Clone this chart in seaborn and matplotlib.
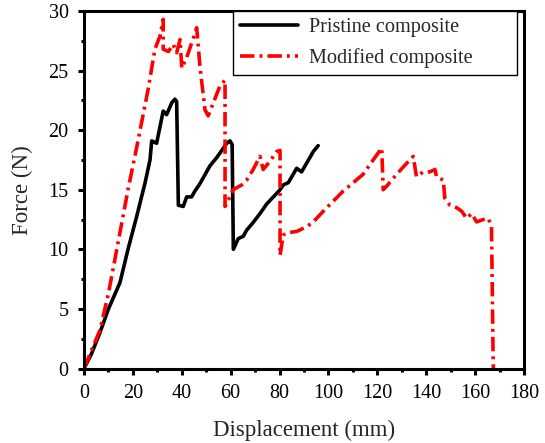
import matplotlib
matplotlib.use("Agg")
import matplotlib.pyplot as plt
import seaborn as sns
import numpy as np
import pandas as pd
from matplotlib.ticker import MultipleLocator

sns.set_style("ticks")
plt.rcParams['font.family'] = ['Liberation Serif', 'DejaVu Serif']
plt.rcParams['mathtext.fontset'] = 'stix'

# Pristine composite (black solid)
pristine_x = [0, 3, 6.5, 10, 14.7, 18, 21.6, 25, 27, 27.7, 29.7, 32.4, 33.8, 35.9, 37.2, 37.9,
              38.6, 40.6, 42, 44, 45.4, 47.4, 51.5, 54.3, 58.4, 59.7, 60.6,
              61.1, 63.1, 65.2, 66.5, 69, 72, 74.7, 77, 80.2, 81.5, 83.6, 87, 89, 92.4, 93.8, 95.8]
pristine_y = [0, 1.2, 3.0, 5.0, 7.2, 10.0, 12.8, 15.6, 17.5, 19.1, 18.9, 21.6, 21.3, 22.3, 22.6, 22.4,
              13.7, 13.6, 14.4, 14.4, 14.9, 15.5, 17.0, 17.7, 18.9, 19.1, 18.8,
              10.0, 10.9, 11.1, 11.6, 12.2, 13.0, 13.8, 14.3, 15.0, 15.4, 15.6, 16.8, 16.5, 17.7, 18.2, 18.7]

# Modified composite (red dash-dot)
modified_x = [0, 3, 6.5, 10, 14.7, 18, 21.6, 26.3, 29, 31.1, 32.4, 32.4, 34.5, 36.5, 37.9, 39.3,
              40, 42, 44.7, 46.1, 47.4, 49.5, 50.8, 52.9, 55.6, 57.7,
              57.7, 59.7, 61, 64.5, 66.5, 69.2, 72, 73.3, 76.1, 78.8, 80.2,
              80.2, 81.5, 83.6, 87, 91.1, 93.8, 97.9, 106.1, 114.2, 118.3, 121.8,
              122.4, 123.8, 127.9, 131.9, 134.7, 136, 138.8, 141.5, 143.6, 144.2, 147,
              147.6, 149.7, 152.4, 154.5, 156.5, 158.6, 160.6, 163.3, 165.4, 166.7,
              167.4, 167.5]
modified_y = [0, 1.5, 3.2, 6.3, 11.4, 15.0, 18.6, 23.5, 26.8, 27.9, 29.3, 26.8, 26.6, 27.2, 26.5, 27.6,
              25.2, 26.1, 27.7, 28.6, 25.4, 21.7, 21.2, 22.3, 23.7, 24.2,
              13.6, 14.4, 15.0, 15.4, 15.8, 16.7, 17.8, 16.7, 17.4, 18.2, 18.3,
              9.5, 11.2, 11.4, 11.5, 11.9, 12.3, 13.2, 14.9, 16.3, 17.5, 18.5,
              15.0, 15.3, 16.3, 17.2, 17.8, 16.1, 16.5, 16.5, 16.7, 16.1, 15.8,
              14.3, 13.7, 13.5, 13.2, 12.6, 13.0, 12.3, 12.5, 12.6, 11.9,
              0.4, 0.0]

x_ticks = [0, 20, 40, 60, 80, 100, 120, 140, 160, 180]
y_ticks = [0, 5, 10, 15, 20, 25, 30]

fig = plt.figure(figsize=(5.45, 4.43), dpi=100)
ax = fig.add_axes([84/545, 1 - 368.5/443, (524-84)/545, (368.5-11)/443])

sns.lineplot(x=pristine_x, y=pristine_y, sort=False, estimator=None, ax=ax,
             color='black', linewidth=2.6, label='Pristine composite')
sns.lineplot(x=modified_x, y=modified_y, sort=False, estimator=None, ax=ax,
             color='#ff0000', linewidth=2.6, label='Modified composite')
ax.lines[1].set_linestyle((0, (4, 1.4, 0.8, 1.4)))

ax.set_xlim(0, 180)
ax.set_ylim(0, 30)
ax.set_xticks(x_ticks)
ax.set_yticks(y_ticks)
ax.xaxis.set_minor_locator(MultipleLocator(10))
ax.yaxis.set_minor_locator(MultipleLocator(2.5))
ax.tick_params(axis='both', which='major', direction='out', length=4, width=2.2,
               labelsize=14.5, color='black', labelcolor='black', pad=7)
ax.tick_params(axis='both', which='minor', direction='out', length=2.5, width=2.2, color='black')
ax.tick_params(top=False, right=False, which='both')

for sp in ax.spines.values():
    sp.set_visible(True)
    sp.set_linewidth(2.2)
    sp.set_color('black')

ax.set_xlabel('Displacement (mm)', fontsize=16.5, labelpad=12)
ax.set_ylabel('Force (N)', fontsize=16.5, labelpad=11)

leg = ax.legend(loc='upper left', fontsize=14.6, frameon=True, fancybox=False,
                edgecolor='black', handlelength=2.86, handletextpad=0.55,
                bbox_to_anchor=(0.3386, 0.0, 0.984 - 0.3386, 1.0), mode='expand',
                borderaxespad=0.0, borderpad=0.35, labelspacing=0.55)
leg.get_frame().set_linewidth(1.0)
leg.get_frame().set_alpha(1)

fig.savefig('out.png', dpi=100, facecolor='white')
